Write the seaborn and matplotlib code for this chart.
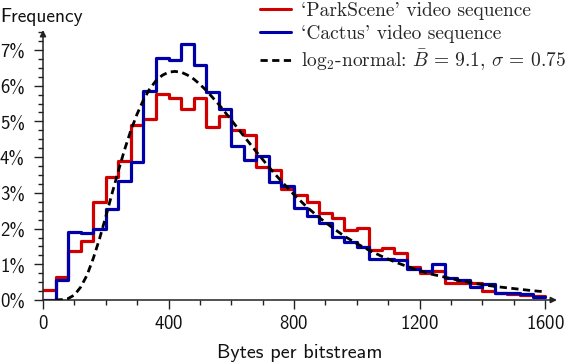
import seaborn as sns
import matplotlib.pyplot as plt
from matplotlib.lines import Line2D
from matplotlib.ticker import MultipleLocator

# 40-byte bins from 0 to 1600, frequency in percent
bin_edges = list(range(0, 1601, 40))
bin_centers = [e + 20 for e in bin_edges[:-1]]

parkscene = [0.28, 0.65, 1.37, 1.66, 2.75, 3.45, 3.90, 4.90, 5.07, 5.77,
             5.67, 5.35, 5.65, 4.84, 5.16, 4.76, 4.62, 3.73, 3.64, 3.10,
             2.94, 2.75, 2.43, 2.29, 1.96, 2.01, 1.40, 1.45, 1.33, 0.92,
             0.77, 0.82, 0.49, 0.49, 0.47, 0.25, 0.21, 0.17, 0.15, 0.11]
cactus = [0.00, 0.56, 1.91, 1.89, 2.00, 2.55, 3.34, 3.85, 5.84, 6.77,
          6.72, 7.17, 6.58, 5.81, 5.35, 4.30, 3.92, 4.03, 3.31, 3.20,
          2.57, 2.35, 2.15, 1.77, 1.63, 1.48, 1.14, 1.14, 1.12, 0.86,
          0.82, 1.01, 0.61, 0.56, 0.37, 0.44, 0.21, 0.19, 0.16, 0.09]

# log2-normal fit (dashed)
curve_x = [40, 60, 80, 100, 120, 140, 160, 180, 200, 220, 240, 260, 280,
           300, 320, 340, 360, 380, 400, 420, 440, 460, 480, 500, 520, 560,
           600, 640, 680, 720, 760, 800, 840, 880, 920, 960, 1000, 1040,
           1080, 1120, 1160, 1200, 1240, 1280, 1320, 1360, 1400, 1440, 1480,
           1520, 1560, 1600]
curve_y = [0.00, 0.01, 0.04, 0.14, 0.36, 0.69, 1.16, 1.71, 2.33, 2.98,
           3.61, 4.21, 4.75, 5.21, 5.60, 5.91, 6.14, 6.29, 6.38, 6.40, 6.38,
           6.30, 6.19, 6.04, 5.87, 5.48, 5.04, 4.59, 4.15, 3.72, 3.32, 2.95,
           2.61, 2.31, 2.04, 1.79, 1.58, 1.39, 1.22, 1.07, 0.94, 0.82, 0.72,
           0.64, 0.56, 0.49, 0.43, 0.38, 0.34, 0.30, 0.26, 0.23]

labels = ["`ParkScene' video sequence", "`Cactus' video sequence",
          r"$\log_2\!$-normal: $\bar{B}\,=\,9.1$, $\sigma\,=\,0.75$"]
RED = "#d00000"
BLUE = "#0000a8"

sns.set_style("ticks")
plt.rcParams["font.family"] = ["cmss10", "DejaVu Sans"]
plt.rcParams["mathtext.fontset"] = "cm"
plt.rcParams["axes.formatter.use_mathtext"] = True

W, H = 566, 364
fig = plt.figure(figsize=(W / 100, H / 100), dpi=100)
ax = fig.add_axes([43 / W, 64 / H, (557 - 43) / W, (300 - 30) / H])

sns.histplot(x=bin_centers, weights=parkscene, bins=bin_edges, element="step",
             fill=False, color=RED, linewidth=2.3, ax=ax, zorder=2)
sns.histplot(x=bin_centers, weights=cactus, bins=bin_edges, element="step",
             fill=False, color=BLUE, linewidth=2.3, ax=ax, zorder=3)
sns.lineplot(x=curve_x, y=curve_y, color="black", linewidth=2.0,
             dashes=False, ax=ax, zorder=4).lines[-1].set_dashes((2.6, 1.6))

ax.set_xlim(0, 1638)
ax.set_ylim(0, 7.56)
ax.set_xticks([0, 400, 800, 1200, 1600])
ax.xaxis.set_minor_locator(MultipleLocator(100))
ax.set_yticks(range(8), [f"{i}%" for i in range(8)])
ax.yaxis.set_minor_locator(MultipleLocator(0.25))
ax.tick_params(which="major", length=6.5, width=1.0, color="#222222",
               labelsize=13.5, labelcolor="#111111")
ax.tick_params(axis="x", which="major", pad=4)
ax.tick_params(axis="y", which="major", pad=6.5)
ax.tick_params(which="minor", length=3.5, width=1.0, color="#222222")

for s in ax.spines.values():
    s.set_visible(False)
arrow = dict(arrowstyle="-|>", color="#222222", lw=1.1, mutation_scale=9,
             shrinkA=0, shrinkB=0)
ax.annotate("", xy=(1, 0), xytext=(0, 0), xycoords="axes fraction",
            arrowprops=arrow, annotation_clip=False)
ax.annotate("", xy=(0, 1), xytext=(0, 0), xycoords="axes fraction",
            arrowprops=arrow, annotation_clip=False)

ax.set_xlabel("Bytes per bitstream", fontsize=14.5, labelpad=8, color="#111111")
ax.set_ylabel("")
fig.text(0.0, 1 - 22 / H, "Frequency", fontsize=14, ha="left",
         va="baseline", color="#111111")

handles = [Line2D([], [], color=RED, lw=2.2),
           Line2D([], [], color=BLUE, lw=2.2),
           Line2D([], [], color="black", lw=2.0, dashes=(2.6, 1.6))]
fig.legend(handles, labels, loc="upper right",
           bbox_to_anchor=(1.0, 1 - 2 / H),
           frameon=False, prop={"family": "cmr10", "size": 14},
           handlelength=1.6, handletextpad=0.5, labelspacing=0.25,
           borderpad=0.0, borderaxespad=0.0)

fig.savefig("out.png", dpi=100)
